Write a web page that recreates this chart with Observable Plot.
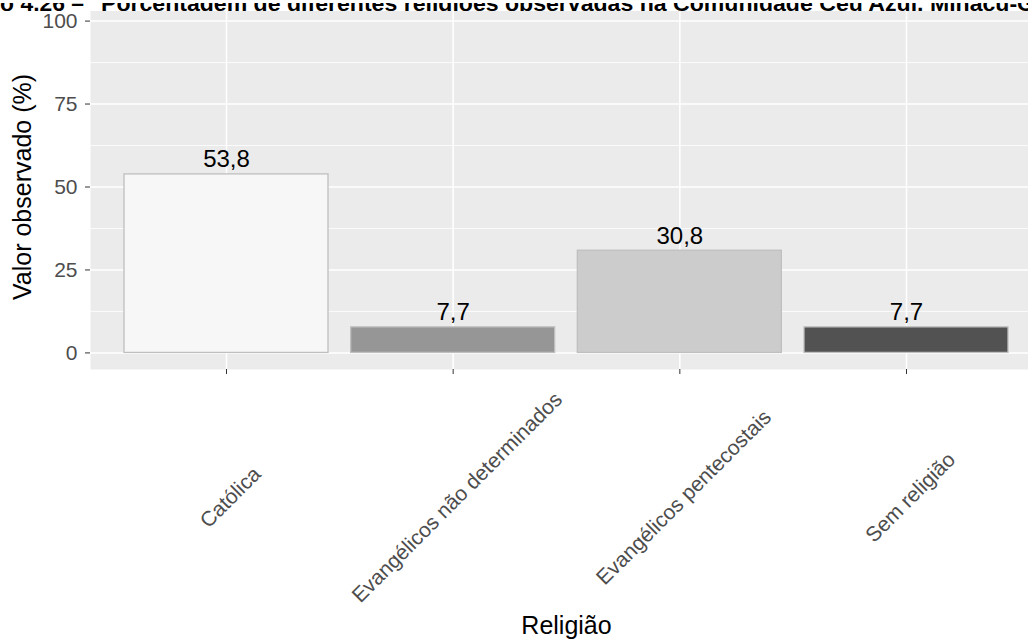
<!DOCTYPE html>
<html>
<head>
<meta charset="utf-8">
<script src="https://cdn.jsdelivr.net/npm/d3@7"></script>
<script src="https://cdn.jsdelivr.net/npm/@observablehq/plot@0.6"></script>
<style>
  html, body { margin: 0; padding: 0; background: white; overflow: hidden; }
  #wrap { position: relative; width: 1028px; height: 640px; overflow: hidden; }
  #title { position: absolute; left: 0; top: 0; width: 1028px; height: 11px; overflow: hidden; background: white; z-index: 2; }
  #chart { position: absolute; left: 0; top: 0; }
  #chart svg { max-width: none !important; }
</style>
</head>
<body>
<div id="wrap">
  <div id="title">
    <svg width="1028" height="11">
      <text x="-66" y="8" textLength="150" lengthAdjust="spacingAndGlyphs" font-family="Liberation Sans, Arial, sans-serif" font-weight="bold" font-size="22" fill="black">Gráfico 4.26 –</text>
      <text x="101" y="8" textLength="952" lengthAdjust="spacingAndGlyphs" font-family="Liberation Sans, Arial, sans-serif" font-weight="bold" font-size="22" fill="black">Porcentagem de diferentes religiões observadas na Comunidade Céu Azul, Minaçu-GO</text>
    </svg>
  </div>
  <div id="chart"></div>
</div>
<script>
const categorias = ["Católica", "Evangélicos não determinados", "Evangélicos pentecostais", "Sem religião"];
const valores = [53.8, 7.7, 30.8, 7.7];
const cores = ["#F7F7F7", "#969696", "#CCCCCC", "#525252"];
const yTicks = [0, 25, 50, 75, 100];
const yMinor = [12.5, 37.5, 62.5, 87.5];
const tituloX = "Religião";
const tituloY = "Valor observado (%)";

const dados = categorias.map((c, i) => ({cat: c, v: valores[i]}));
const fmt = v => v.toFixed(1).replace(".", ",");
const font = "Liberation Sans, Arial, sans-serif";

const chart = Plot.plot({
  width: 1042,
  height: 640,
  marginLeft: 90,
  marginRight: 0,
  marginTop: 4,
  marginBottom: 271,
  style: {background: "white", fontFamily: font, overflow: "visible", maxWidth: "none"},
  x: {domain: categorias, paddingInner: 0.1, paddingOuter: 0.15, round: false, axis: null},
  y: {domain: [-5, 105], axis: null},
  color: {domain: categorias, range: cores},
  marks: [
    Plot.frame({fill: "#EBEBEB", stroke: null}),
    Plot.ruleY(yMinor, {stroke: "white", strokeWidth: 0.8}),
    Plot.ruleY(yTicks, {stroke: "white", strokeWidth: 1.5}),
    Plot.ruleX(categorias, {x: d => d, stroke: "white", strokeWidth: 1.5}),
    Plot.barY(dados, {x: "cat", y1: () => 0, y2: "v", fill: "cat", stroke: "#BFBFBF", strokeWidth: 1.3}),
    Plot.text(dados, {x: "cat", y: "v", text: d => fmt(d.v), dy: -7, lineAnchor: "bottom", fontSize: 24, fill: "black"}),
    Plot.axisY({ticks: yTicks, tickSize: 5, tickPadding: 8, stroke: "#333333", fill: "#4D4D4D", fontSize: 21, label: null}),
    Plot.axisX({tickSize: 5, stroke: "#333333", tickFormat: () => "", label: null}),
    Plot.text(categorias, {x: d => d, text: d => d, frameAnchor: "bottom", dy: 128, dx: 4, rotate: -45, textAnchor: "middle", lineAnchor: "middle", fontSize: 21, fill: "#4D4D4D"}),
    Plot.text([tituloY], {text: d => d, frameAnchor: "left", dx: -68, rotate: -90, textAnchor: "middle", lineAnchor: "middle", fontSize: 25, fill: "black"}),
    Plot.text([tituloX], {text: d => d, frameAnchor: "bottom", dy: 256, textAnchor: "middle", lineAnchor: "middle", fontSize: 25, fill: "black"})
  ]
});
chart.style.maxWidth = "none";
document.getElementById("chart").appendChild(chart);
</script>
</body>
</html>
